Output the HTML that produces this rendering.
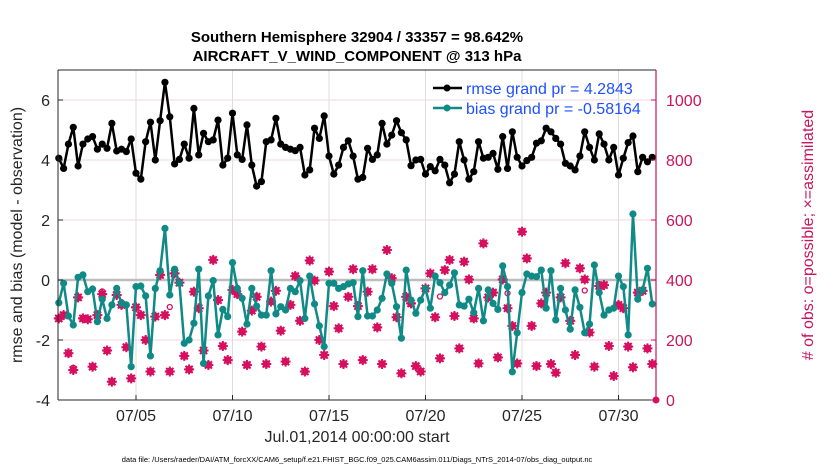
<!DOCTYPE html>
<html><head><meta charset="utf-8"><style>
body{margin:0;background:#fff;}
svg{display:block;font-family:"Liberation Sans",Arial,sans-serif;}
</style></head><body>
<svg id="chart" width="830" height="470" viewBox="0 0 830 470" xmlns="http://www.w3.org/2000/svg">
<rect width="830" height="470" fill="#fff"/>
<text x="357" y="42" text-anchor="middle" font-size="15" font-weight="bold">Southern Hemisphere 32904 / 33357 = 98.642%</text>
<text x="357" y="61" text-anchor="middle" font-size="15" font-weight="bold">AIRCRAFT_V_WIND_COMPONENT @ 313 hPa</text>
<g id="grid"></g>
<g id="series"></g>
<g id="axes"></g>
<text transform="translate(22,235) rotate(-90)" text-anchor="middle" font-size="16" fill="#262626">rmse and bias (model - observation)</text>
<text transform="translate(813,235) rotate(-90)" text-anchor="middle" font-size="16" fill="#C8155B"># of obs: o=possible; ×=assimilated</text>
<text x="357" y="442" text-anchor="middle" font-size="16" fill="#262626">Jul.01,2014 00:00:00 start</text>
<text x="357" y="462" text-anchor="middle" font-size="7.5" fill="#000">data file: /Users/raeder/DAI/ATM_forcXX/CAM6_setup/f.e21.FHIST_BGC.f09_025.CAM6assim.011/Diags_NTrS_2014-07/obs_diag_output.nc</text>
<g>
<line x1="433" y1="88" x2="462" y2="88" stroke="#000" stroke-width="2.5"/>
<circle cx="447" cy="88" r="3.5" fill="#000"/>
<text x="466" y="94" font-size="16" fill="#1E50FF">rmse grand pr = 4.2843</text>
<line x1="433" y1="108" x2="462" y2="108" stroke="#108A86" stroke-width="2.5"/>
<circle cx="447" cy="108" r="3.5" fill="#108A86"/>
<text x="466" y="114" font-size="16" fill="#1E50FF">bias grand pr = -0.58164</text>
</g>
</svg>
<script>
const rmse = [4.06,3.72,4.53,5.09,3.8,4.53,4.7,4.78,4.36,4.53,4.39,5.22,4.3,4.36,4.28,4.7,3.56,3.36,4.61,5.26,4.0,5.31,6.59,5.44,3.87,4.02,4.53,4.06,5.72,4.17,4.89,4.61,
4.67,5.33,3.83,4.06,5.56,4.17,4.02,5.17,3.83,3.13,3.28,4.61,4.67,5.39,4.53,4.42,4.36,4.31,4.42,3.5,3.67,5.06,4.72,5.47,4.13,3.53,3.83,4.42,4.64,4.13,3.36,
3.42,4.39,4.02,4.17,5.22,4.53,4.83,5.31,4.91,4.67,3.81,4.0,4.02,3.53,3.78,3.64,4.02,3.83,3.24,3.53,4.61,4.0,3.36,3.61,4.61,4.06,4.09,4.22,3.69,4.78,3.72,4.94,
4.09,3.8,3.98,4.09,4.56,4.64,5.06,4.94,4.72,4.53,3.89,3.8,3.67,4.13,4.94,4.42,4.0,4.87,4.53,4.0,4.42,3.5,4.06,4.58,4.8,3.61,4.09,3.94,4.09];
const bias = [-0.76,-0.11,-1.2,-1.5,0.09,0.17,-0.39,-0.3,-1.39,-0.64,-1.28,-0.83,-0.28,-0.78,-0.83,-2.89,-0.22,-0.2,-0.53,-2.53,-0.28,0.31,1.72,-0.5,0.36,-0.11,-2.11,-2.0,-1.44,0.36,-2.78,-0.53,
-0.02,-1.83,-0.98,-1.22,0.58,-0.28,-0.61,-1.47,-0.28,-0.87,-1.17,-1.17,0.31,-1.13,-0.89,-1.0,-0.28,-0.39,-0.02,-1.28,0.13,-0.8,-1.53,-2.22,-0.11,-0.11,-0.28,-0.22,-0.13,-0.09,-1.22,
0.31,-1.2,-1.2,-1.0,-0.61,0.2,-0.11,-0.89,-1.94,0.33,-0.67,-1.11,-0.67,-0.28,-0.94,0.13,-0.09,-0.42,-0.17,0.24,-0.83,-0.87,-0.64,-1.09,-0.28,-1.36,-0.33,-0.78,-0.98,0.47,-0.22,-3.06,
-1.76,-0.42,0.2,0.13,0.11,0.33,-0.94,0.31,-1.33,-0.28,-1.0,-1.64,-0.33,-0.91,-1.76,-1.47,0.5,-0.42,-1.17,-1.0,-0.94,0.13,-0.22,-1.83,2.2,-0.64,-0.33,0.39,-0.8];
const nAssim = [272,283,156,100,342,272,269,111,283,353,165,61,350,317,176,72,309,283,200,95,278,417,283,95,422,391,147,102,361,306,165,117,
467,333,180,133,367,353,228,117,298,344,178,120,328,364,231,128,317,413,264,95,465,398,200,150,428,313,239,120,344,436,313,
133,361,436,242,120,500,406,276,89,344,322,113,95,372,422,276,139,433,467,280,172,461,402,272,122,522,342,358,142,402,306,247,
122,561,472,247,113,322,358,120,91,342,456,264,150,439,402,225,111,380,383,180,80,317,306,178,109,358,364,172,120];
const nPossible = nAssim.map(v=>v);
nPossible[3]=108;nPossible[9]=362;nPossible[13]=326;nPossible[23]=310;nPossible[79]=345;nPossible[93]=356;nPossible[109]=365;
const xTickLabels = ["07/05","07/10","07/15","07/20","07/25","07/30"];
const xTickDays = [4,9,14,19,24,29];
const yLeftTicks = [-4,-2,0,2,4,6];
const yRightTicks = [0,200,400,600,800,1000];

const NS="http://www.w3.org/2000/svg";
const L=58,R=656,T=70,B=400;
const xDay=d=>58.8+d*19.3;
const xI=i=>xDay(i*0.25);
const yL=v=>280-30*v;
const yR=c=>400-0.3*c;
function mk(tag,attrs,parent){const e=document.createElementNS(NS,tag);for(const k in attrs)e.setAttribute(k,attrs[k]);parent.appendChild(e);return e;}
const grid=document.getElementById('grid'),series=document.getElementById('series'),axes=document.getElementById('axes');
xTickDays.forEach((d,k)=>{
 const l=mk('line',{x1:xDay(d),x2:xDay(d),y1:T,y2:B,stroke:'#dcdcdc','stroke-width':1},grid);
 
 
 const t=mk('line',{x1:xDay(d),x2:xDay(d),y1:B,y2:B-5,stroke:'#262626'},axes);
 
 
 const tx=mk('text',{x:xDay(d),y:B+21,'text-anchor':'middle','font-size':16,fill:'#262626'},axes);
 tx.textContent=xTickLabels[k];
 
 
});
yRightTicks.forEach(c=>{
 if(c===0||c===400)return;
 const l=mk('line',{x1:L,x2:R,y1:yR(c),y2:yR(c),stroke:'#f2d6e0','stroke-width':1},grid);
 
 
});
const z=mk('line',{x1:L,x2:R,y1:yL(0),y2:yL(0),stroke:'#bdbdbd','stroke-width':2.5},grid);


nAssim.forEach((c,i)=>{
 const x=xI(i),y=yR(c);
 const g=mk('g',{stroke:'#D6105F','stroke-width':2},series);
 
 
 mk('circle',{cx:x,cy:y,r:3.8,fill:'#D6105F',stroke:'none'},g);
 mk('line',{x1:x-5,x2:x+5,y1:y,y2:y},g);
 mk('line',{x1:x,x2:x,y1:y-5,y2:y+5},g);
 mk('line',{x1:x-3.6,x2:x+3.6,y1:y-3.6,y2:y+3.6},g);
 mk('line',{x1:x-3.6,x2:x+3.6,y1:y+3.6,y2:y-3.6},g);
});
nPossible.forEach((c,i)=>{
 if(c===nAssim[i])return;
 const p=mk('circle',{cx:xI(i),cy:yR(c),r:2.5,fill:'none',stroke:'#D6105F','stroke-width':1.3},series);
 
 
});
function drawLine(arr,color,name){
 const pl=mk('polyline',{points:arr.map((v,i)=>xI(i)+','+yL(v)).join(' '),fill:'none',stroke:color,'stroke-width':2.5,'stroke-linejoin':'round'},series);
 
 
 arr.forEach((v,i)=>{
  const c=mk('circle',{cx:xI(i),cy:yL(v),r:3.6,fill:color},series);
  
  
 });
}
drawLine(bias,'#108A86','bias');
drawLine(rmse,'#000000','rmse');
const fl=mk('line',{x1:L,x2:L,y1:T,y2:B,stroke:'#262626','stroke-width':1},axes);


const ft=mk('line',{x1:L,x2:R,y1:T,y2:T,stroke:'#262626','stroke-width':1},axes);


const fb=mk('line',{x1:L,x2:R,y1:B,y2:B,stroke:'#262626','stroke-width':1},axes);


const fr=mk('line',{x1:R,x2:R,y1:T,y2:B,stroke:'#C8155B','stroke-width':1.2},axes);


yLeftTicks.forEach(v=>{
 const t=mk('line',{x1:L,x2:L+5,y1:yL(v),y2:yL(v),stroke:'#262626'},axes);
 
 
 const tx=mk('text',{x:L-8,y:yL(v)+6,'text-anchor':'end','font-size':16,fill:'#262626'},axes);
 tx.textContent=v;
 
 
});
yRightTicks.forEach(c=>{
 const t=mk('line',{x1:R-5,x2:R,y1:yR(c),y2:yR(c),stroke:'#C8155B'},axes);
 
 
 const tx=mk('text',{x:R+10,y:yR(c)+6,'font-size':16,fill:'#C8155B'},axes);
 tx.textContent=c;
 
 
});
const em=mk('circle',{cx:R,cy:yR(0),r:3.5,fill:'#D6105F'},axes);


</script>
</body></html>
